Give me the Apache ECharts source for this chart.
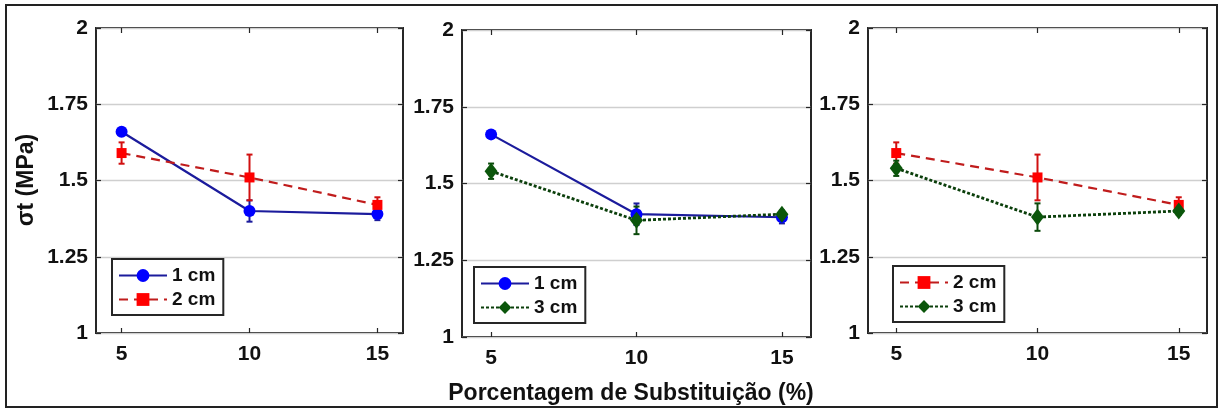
<!DOCTYPE html>
<html>
<head>
<meta charset="utf-8">
<script src="https://cdn.jsdelivr.net/npm/echarts@6/dist/echarts.min.js"></script>
<style>
  html, body { margin: 0; padding: 0; background: #fff; }
  #chart { width: 1221px; height: 410px; }
</style>
</head>
<body>
<div id="chart"></div>
<script>
// Substitution percentage (x) and tensile strength σt in MPa (mean and error half-width)
const substitution = [5, 10, 15];
const xTickValues = [5, 10, 15];
const mean1cm = [1.66, 1.40, 1.39];
const err1cm  = [0.01, 0.035, 0.02];
const mean2cm = [1.59, 1.51, 1.42];
const err2cm  = [0.035, 0.075, 0.025];
const mean3cm = [1.54, 1.38, 1.40];
const err3cm  = [0.025, 0.045, 0.012];

const FONT = 'Liberation Sans, Arial, sans-serif';

const styles = {
  '1 cm': { line: '#1b1b9c', marker: '#0000ff', err: '#1b1b9c', type: 'solid', width: 2.2,
            symbol: 'circle', size: 12 },
  '2 cm': { line: '#c01c1c', marker: '#ff0000', err: '#d01010', type: [9, 6], width: 2.2,
            symbol: 'rect', size: 10 },
  '3 cm': { line: '#0b3f0b', marker: '#0b560b', err: '#0b4a0b', type: [3, 2], width: 2.8,
            symbol: 'diamond', size: [13, 17] }
};
const seriesData = {
  '1 cm': { mean: mean1cm, err: err1cm },
  '2 cm': { mean: mean2cm, err: err2cm },
  '3 cm': { mean: mean3cm, err: err3cm }
};

// Plot areas of the three panels (left, top, width, height)
const grids = [
  { left: 96,  top: 28, width: 307, height: 305 },
  { left: 462, top: 30, width: 349, height: 307 },
  { left: 868, top: 28, width: 339, height: 305 }
];
const panels = [['1 cm', '2 cm'], ['1 cm', '3 cm'], ['2 cm', '3 cm']];
const legendPos = [{ left: 112, top: 259 }, { left: 474, top: 267 }, { left: 893, top: 266 }];

const gridOpts = [], xAxes = [], yAxes = [], series = [], legends = [];

grids.forEach((g, i) => {
  gridOpts.push(Object.assign({ show: true, borderColor: '#262626', borderWidth: 2,
                                backgroundColor: '#fff' }, g));
  // bottom x axis with labels
  xAxes.push({
    type: 'value', gridIndex: i, min: 4, max: 16, position: 'bottom',
    axisLine: { show: false },
    axisTick: { show: true, inside: true, length: 5, customValues: xTickValues,
                lineStyle: { color: '#262626', width: 1.2 } },
    axisLabel: { customValues: xTickValues, margin: 11, color: '#111',
                 fontFamily: FONT, fontWeight: 'bold', fontSize: 21 },
    splitLine: { show: false }
  });
  // top x axis: ticks only
  xAxes.push({
    type: 'value', gridIndex: i, min: 4, max: 16, position: 'top',
    axisLine: { show: false },
    axisTick: { show: true, inside: true, length: 5, customValues: xTickValues,
                lineStyle: { color: '#262626', width: 1.2 } },
    axisLabel: { show: false }, splitLine: { show: false }
  });
  yAxes.push({
    type: 'value', gridIndex: i, min: 1, max: 2, interval: 0.25, position: 'left',
    axisLine: { show: false },
    axisTick: { show: true, inside: true, length: 5, lineStyle: { color: '#262626', width: 1.2 } },
    axisLabel: { margin: 8, color: '#111', fontFamily: FONT, fontWeight: 'bold', fontSize: 21 },
    splitLine: { show: true, lineStyle: { color: '#cfcfcf', width: 1.3 } }
  });
  yAxes.push({
    type: 'value', gridIndex: i, min: 1, max: 2, interval: 0.25, position: 'right',
    axisLine: { show: false },
    axisTick: { show: true, inside: true, length: 5, lineStyle: { color: '#262626', width: 1.2 } },
    axisLabel: { show: false }, splitLine: { show: false }
  });

  panels[i].forEach((name, k) => {
    const st = styles[name];
    const d = seriesData[name];
    // error bars
    series.push({
      type: 'custom', name: 'err ' + name + ' ' + i, xAxisIndex: 2 * i, yAxisIndex: 2 * i,
      z: 2 + k,
      data: substitution.map((x, j) => [x, d.mean[j] - d.err[j], d.mean[j] + d.err[j]]),
      renderItem: (params, api) => {
        const lo = api.coord([api.value(0), api.value(1)]);
        const hi = api.coord([api.value(0), api.value(2)]);
        const cap = 3;
        const ls = { stroke: st.err, lineWidth: 2 };
        return { type: 'group', children: [
          { type: 'line', shape: { x1: lo[0], y1: lo[1], x2: hi[0], y2: hi[1] }, style: ls },
          { type: 'line', shape: { x1: lo[0] - cap, y1: lo[1], x2: lo[0] + cap, y2: lo[1] }, style: ls },
          { type: 'line', shape: { x1: hi[0] - cap, y1: hi[1], x2: hi[0] + cap, y2: hi[1] }, style: ls }
        ] };
      },
      silent: true
    });
    // mean line with markers
    series.push({
      type: 'line', name: name, xAxisIndex: 2 * i, yAxisIndex: 2 * i, z: 5 + k,
      data: substitution.map((x, j) => [x, d.mean[j]]),
      symbol: st.symbol, symbolSize: st.size, showAllSymbol: true,
      lineStyle: { color: st.line, width: st.width, type: st.type },
      itemStyle: { color: st.marker, borderColor: st.marker, borderWidth: 0 },
      emphasis: { disabled: true }, animation: false
    });
  });

  legends.push(Object.assign({
    data: panels[i], orient: 'vertical', selectedMode: false,
    backgroundColor: '#fff', borderColor: '#262626', borderWidth: 2,
    padding: [7, 8, 6, 6], itemGap: 5, itemWidth: 48, itemHeight: 16,
    textStyle: { color: '#111', fontFamily: FONT, fontWeight: 'bold', fontSize: 19 }
  }, legendPos[i]));
});

const chart = echarts.init(document.getElementById('chart'), null, { renderer: 'canvas' });
chart.setOption({
  animation: false,
  backgroundColor: '#fff',
  grid: gridOpts,
  xAxis: xAxes,
  yAxis: yAxes,
  legend: legends,
  series: series,
  graphic: [
    { type: 'rect', shape: { x: 6, y: 5, width: 1211, height: 402 },
      style: { fill: 'none', stroke: '#222', lineWidth: 2 }, silent: true },
    { type: 'text', x: 27, y: 180, rotation: Math.PI / 2,
      style: { text: 'σt (MPa)', align: 'center', verticalAlign: 'middle',
               fontFamily: FONT, fontWeight: 'bold', fontSize: 23, fill: '#111' } },
    { type: 'text', x: 631, y: 394,
      style: { text: 'Porcentagem de Substituição (%)', align: 'center', verticalAlign: 'middle',
               fontFamily: FONT, fontWeight: 'bold', fontSize: 23, fill: '#111' } }
  ]
});
</script>
</body>
</html>
